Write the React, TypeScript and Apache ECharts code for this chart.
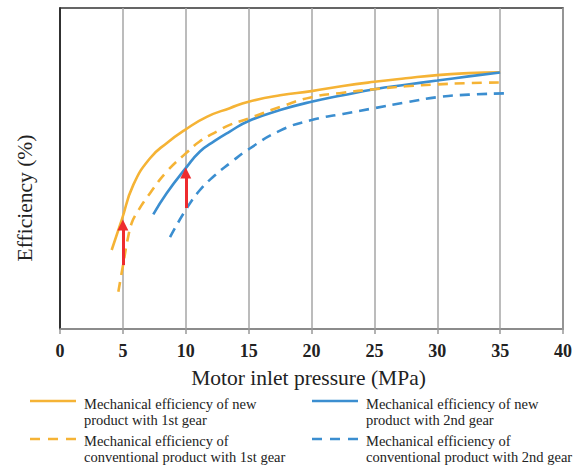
import React, { useEffect, useRef } from "react";
import * as echarts from "echarts";

const xTicks = [0, 5, 10, 15, 20, 25, 30, 35, 40];

const newGear1: [number, number][] = [
  [4.11, 24.6], [4.91, 34.0], [5.83, 44.9], [7.16, 53.2], [8.48, 57.9], [10, 62.2],
  [11.67, 66.1], [13.5, 68.8], [15, 70.8], [17.5, 72.8], [20, 74.1], [22.5, 75.7],
  [25, 77.0], [27.5, 78.1], [30, 79.1], [32.5, 79.7], [35, 80.0],
];
const convGear1: [number, number][] = [
  [4.64, 11.6], [4.99, 19.4], [5.43, 28.9], [5.7, 33.0], [6.1, 36.1], [7.16, 42.3],
  [8.48, 49.0], [10, 54.7], [11.1, 58.4], [12.5, 61.6], [13.5, 63.6], [15, 65.6],
  [17.6, 69.3], [20, 72.2], [22.5, 73.6], [25, 74.7], [27.5, 75.6], [30, 76.2],
  [32.5, 76.6], [35.4, 76.8],
];
const newGear2: [number, number][] = [
  [7.42, 35.7], [8.48, 42.3], [10, 50.1], [11.13, 55.3], [12.3, 58.6], [13.5, 61.5],
  [15, 64.8], [17.5, 68.2], [20, 70.8], [22.5, 72.8], [25, 74.7], [27.5, 76.1],
  [30, 77.4], [32.5, 78.7], [35, 79.9],
];
const convGear2: [number, number][] = [
  [8.75, 28.6], [10, 37.1], [11.13, 43.3], [12.3, 47.8], [13.5, 51.6], [15, 56.0],
  [17.5, 61.8], [20, 65.1], [22.5, 67.0], [25, 68.8], [27.5, 70.6], [30, 72.2],
  [32.5, 73.0], [35.4, 73.4],
];
const arrows: [[number, number], [number, number]][] = [
  [[5, 19.9], [5, 32.4]],
  [[10, 37.7], [10, 48.6]],
];

const seriesNames = [
  "Mechanical efficiency of new\nproduct with 1st gear",
  "Mechanical efficiency of new\nproduct with 2nd gear",
  "Mechanical efficiency of\nconventional product with 1st gear",
  "Mechanical efficiency of\nconventional product with 2nd gear",
];

const ORANGE = "#F5B335";
const BLUE = "#3B8ED0";
const RED = "#EE2B2E";
const SERIF = "Liberation Serif";

export default function App() {
  const ref = useRef<HTMLDivElement>(null);
  useEffect(() => {
    if (!ref.current) return;
    const chart = echarts.init(ref.current, undefined, { renderer: "svg" });
    const mk = (name: string, data: [number, number][], color: string, dashed: boolean) => ({
      name,
      type: "line",
      data,
      smooth: 0.5,
      symbol: "none",
      silent: true,
      lineStyle: { color, width: 2.6, type: dashed ? [10, 7] : "solid" },
      itemStyle: { color },
      z: 3,
    });
    const legendItems = [
      { x: 30, y: 401, ty: 412, color: ORANGE, dashed: false, text: seriesNames[0] },
      { x: 312, y: 401, ty: 412, color: BLUE, dashed: false, text: seriesNames[1] },
      { x: 30, y: 439, ty: 449, color: ORANGE, dashed: true, text: seriesNames[2] },
      { x: 312, y: 439, ty: 449, color: BLUE, dashed: true, text: seriesNames[3] },
    ];
    const graphic: any[] = [];
    legendItems.forEach((it) => {
      graphic.push({
        type: "line",
        shape: { x1: it.x, y1: it.y, x2: it.x + 46, y2: it.y },
        style: { stroke: it.color, lineWidth: 2.6, lineDash: it.dashed ? [10, 8] : null },
      });
      graphic.push({
        type: "text",
        x: it.x + 54,
        y: it.ty,
        style: {
          text: it.text,
          fill: "#222",
          fontFamily: SERIF,
          fontSize: 14.5,
          lineHeight: 16.5,
          verticalAlign: "middle",
          align: "left",
        },
      });
    });
    graphic.push({
      type: "text",
      x: 25,
      y: 198,
      rotation: Math.PI / 2,
      style: {
        text: "Efficiency (%)",
        fill: "#222",
        fontFamily: SERIF,
        fontSize: 21.5,
        align: "center",
        verticalAlign: "middle",
      },
    });
    chart.setOption({
      animation: false,
      grid: {
        left: 60,
        right: 16,
        top: 8,
        bottom: 138,
        show: true,
        borderColor: "#333",
        borderWidth: 1.5,
      },
      xAxis: {
        type: "value",
        min: 0,
        max: 40,
        interval: 5,
        name: "Motor inlet pressure (MPa)",
        nameLocation: "middle",
        nameGap: 38,
        nameTextStyle: { fontFamily: SERIF, fontSize: 21.5, color: "#222", padding: [0, 6, 0, 0] },
        axisLine: { show: true, lineStyle: { color: "#999", width: 1.5 } },
        axisTick: { show: true, length: 5, lineStyle: { color: "#999", width: 1.5 } },
        axisLabel: {
          fontFamily: SERIF,
          fontSize: 18,
          fontWeight: "bold",
          color: "#222",
          margin: 13,
          customValues: xTicks,
        },
        splitLine: { show: true, lineStyle: { color: "#A6A6A6", width: 1.5 } },
      },
      yAxis: {
        type: "value",
        min: 0,
        max: 100,
        axisLine: { show: true, lineStyle: { color: "#111", width: 1.5 } },
        axisTick: { show: false },
        axisLabel: { show: false },
        splitLine: { show: false },
      },
      series: [
        mk(seriesNames[0], newGear1, ORANGE, false),
        mk(seriesNames[1], newGear2, BLUE, false),
        mk(seriesNames[2], convGear1, ORANGE, true),
        mk(seriesNames[3], convGear2, BLUE, true),
        {
          type: "line",
          data: [],
          silent: true,
          markLine: {
            silent: true,
            symbol: ["none", "triangle"],
            symbolSize: 11,
            label: { show: false },
            lineStyle: { color: RED, width: 3, type: "solid" },
            itemStyle: { color: RED },
            data: arrows.map(([a, b]) => [{ coord: a }, { coord: b }]),
            z: 5,
          },
        },
      ],
      graphic,
    });
    return () => chart.dispose();
  }, []);
  return (
    <div
      ref={ref}
      style={{ position: "fixed", left: 0, top: 0, width: 579, height: 467, background: "#fff" }}
    />
  );
}
